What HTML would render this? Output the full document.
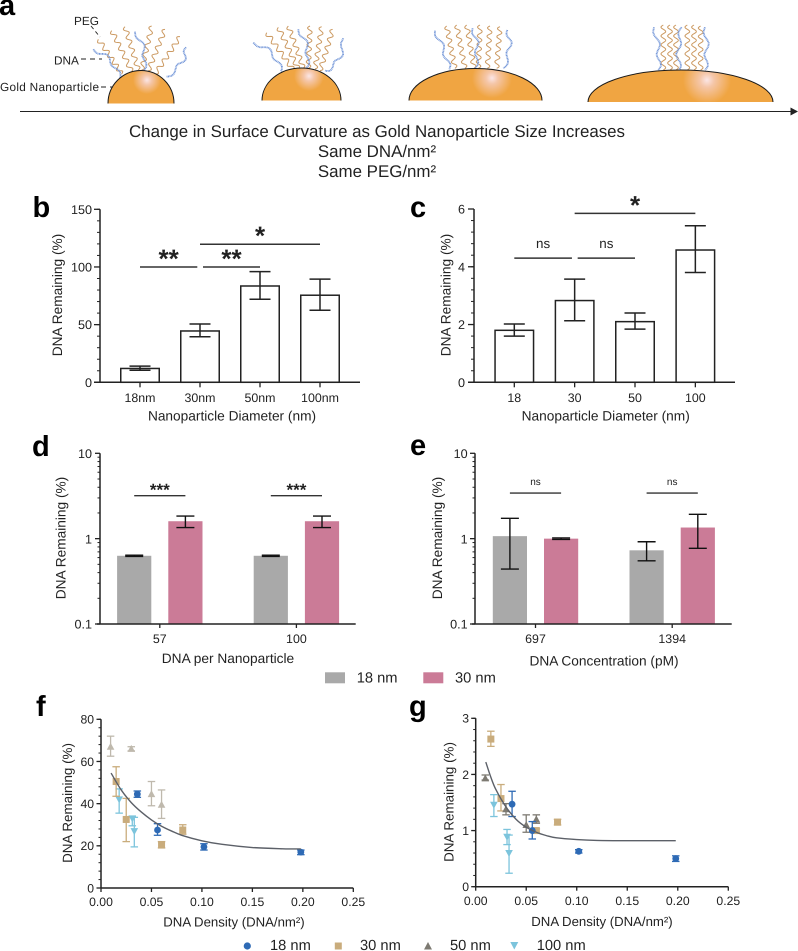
<!DOCTYPE html>
<html lang="en">
<head>
<meta charset="utf-8">
<title>Gold nanoparticle DNA remaining figure</title>
<style>
html,body{margin:0;padding:0;background:#fff;width:798px;height:951px;overflow:hidden}
svg{display:block;position:absolute;left:0;top:0}
text{font-family:"Liberation Sans",Arial,sans-serif;fill:#222;text-rendering:geometricPrecision}
</style>
</head>
<body>
<svg id="figure" xmlns="http://www.w3.org/2000/svg" width="798" height="951" viewBox="0 0 798 951">
  <defs>
    <radialGradient id="gold1" gradientUnits="userSpaceOnUse" cx="147" cy="80" r="14"><stop offset="0" stop-color="#fbe6e6"/><stop offset=".35" stop-color="#f5c6a8"/><stop offset="1" stop-color="#f0a542"/></radialGradient>
    <radialGradient id="gold2" gradientUnits="userSpaceOnUse" cx="309" cy="76" r="15"><stop offset="0" stop-color="#fbe6e6"/><stop offset=".35" stop-color="#f5c6a8"/><stop offset="1" stop-color="#f0a542"/></radialGradient>
    <radialGradient id="gold3" gradientUnits="userSpaceOnUse" cx="492" cy="78" r="20"><stop offset="0" stop-color="#fbe6e6"/><stop offset=".3" stop-color="#f5c6a8"/><stop offset="1" stop-color="#f0a542"/></radialGradient>
    <radialGradient id="gold4" gradientUnits="userSpaceOnUse" cx="707" cy="80" r="24"><stop offset="0" stop-color="#fbe6e6"/><stop offset=".3" stop-color="#f5c6a8"/><stop offset="1" stop-color="#f0a542"/></radialGradient>
  </defs>

  <g id="panel-a">
    <g id="strands"></g>
    <path d="M108 103.5 A33 33 0 0 1 174 103.5" fill="url(#gold1)" stroke="#1a1a1a" stroke-width="1"/>
    <path d="M262 100.5 A39.5 32.5 0 0 1 341 100.5" fill="url(#gold2)" stroke="#1a1a1a" stroke-width="1"/>
    <path d="M409 100.5 A66.5 32 0 0 1 542 100.5" fill="url(#gold3)" stroke="#1a1a1a" stroke-width="1"/>
    <path d="M588 102 A92.5 32 0 0 1 773 102" fill="url(#gold4)" stroke="#1a1a1a" stroke-width="1"/>
    <line x1="20" y1="111.5" x2="792" y2="111.5" stroke="#222" stroke-width="1.1"/>
    <polygon points="790.5,107.5 798,111.5 790.5,115.5" fill="#222"/>
    <text x="74" y="25" font-size="11.8">PEG</text>
    <text x="54" y="64.5" font-size="11.8">DNA</text>
    <text x="0" y="91" font-size="11.8" textLength="99" lengthAdjust="spacing">Gold Nanoparticle</text>
    <line x1="91" y1="26" x2="100" y2="37" stroke="#222" stroke-width=".9" stroke-dasharray="4 3"/>
    <line x1="81" y1="59" x2="102" y2="59" stroke="#222" stroke-width=".9" stroke-dasharray="5 4"/>
    <line x1="101" y1="87" x2="113" y2="87" stroke="#222" stroke-width=".9" stroke-dasharray="5 4"/>
    <text x="129" y="137" font-size="16.9" textLength="496" lengthAdjust="spacing">Change in Surface Curvature as Gold Nanoparticle Size Increases</text>
    <text x="377" y="157" font-size="16.9" text-anchor="middle">Same DNA/nm²</text>
    <text x="377" y="177" font-size="16.9" text-anchor="middle">Same PEG/nm²</text>
  </g>

  <g font-weight="700" font-size="29">
    <text x="-1" y="15" style="fill:#000">a</text>
    <text x="32.5" y="217" style="fill:#000">b</text>
    <text x="410" y="217" style="fill:#000">c</text>
    <text x="32" y="456" style="fill:#000">d</text>
    <text x="410" y="455" style="fill:#000">e</text>
    <text x="36" y="716" style="fill:#000">f</text>
    <text x="409" y="716" style="fill:#000">g</text>
  </g>

  <g id="panel-b"></g>
  <g id="panel-c"></g>
  <g id="panel-d"></g>
  <g id="panel-e"></g>
  <g id="panel-f"></g>
  <g id="panel-g"></g>

  <g>
    <rect x="325" y="672.3" width="20" height="11" fill="#a9a9a9"/>
    <text x="356.7" y="682.7" font-size="14.7">18 nm</text>
    <rect x="423.3" y="672.3" width="20" height="11" fill="#cb7b97"/>
    <text x="455" y="682.7" font-size="14.7">30 nm</text>
  </g>
  <g>
    <circle cx="247.3" cy="946" r="3.6" fill="#2e6ab5"/>
    <text x="270" y="950" font-size="14.7">18 nm</text>
    <rect x="334.8" y="942.5" width="7" height="7" fill="#c9ac7c"/>
    <text x="360" y="950" font-size="14.7">30 nm</text>
    <polygon points="428,942 432,949.5 424,949.5" fill="#7d7a72"/>
    <text x="450" y="950" font-size="14.7">50 nm</text>
    <polygon points="510.3,942 518.3,942 514.3,949.5" fill="#7cc4dc"/>
    <text x="536.7" y="950" font-size="14.7">100 nm</text>
  </g>
</svg>

<script>
/* ---------- panel b data ---------- */
const bCategories = ['18nm', '30nm', '50nm', '100nm'];
const bValues = [12, 44.5, 83.5, 75.5];
const bErrHigh = [14, 50.5, 96, 89.5];
const bErrLow = [10.5, 39.5, 72, 62.5];
const bYTicks = [0, 50, 100, 150];
const bSigFrom = [0, 1.05, 1];
const bSigTo = [0.955, 2, 3];
const bSigLevels = [100, 100, 119.7];
const bSigLabels = ['**', '**', '*'];

/* ---------- panel c data ---------- */
const cCategories = ['18', '30', '50', '100'];
const cValues = [1.8, 2.83, 2.1, 4.58];
const cErrHigh = [2.02, 3.57, 2.4, 5.42];
const cErrLow = [1.6, 2.13, 1.84, 3.8];
const cYTicks = [0, 2, 4, 6];
const cSigFrom = [0, 1.05, 1];
const cSigTo = [0.955, 2, 3];
const cSigLevels = [4.3, 4.3, 5.85];
const cSigLabels = ['ns', 'ns', '*'];

/* ---------- panel d data ---------- */
const dCategories = ['57', '100'];
const dValues18 = [0.63, 0.63];
const dHigh18 = [0.64, 0.64];
const dLow18 = [0.62, 0.62];
const dValues30 = [1.6, 1.6];
const dHigh30 = [1.84, 1.84];
const dLow30 = [1.35, 1.35];
const dSigLevels = [3.19, 3.19];
const dSigLabels = ['***', '***'];

/* ---------- panel e data ---------- */
const eCategories = ['697', '1394'];
const eValues18 = [1.07, 0.73];
const eHigh18 = [1.73, 0.92];
const eLow18 = [0.44, 0.55];
const eValues30 = [1.0, 1.35];
const eHigh30 = [1.02, 1.93];
const eLow30 = [0.98, 0.77];
const eSigLevels = [3.42, 3.42];
const eSigLabels = ['ns', 'ns'];

const logTicks = [0.1, 1, 10];
const logTickLabels = ['0.1', '1', '10'];

/* ---------- panels f and g shared density values ---------- */
const density18 = [0.036, 0.056, 0.102, 0.198];
const density30 = [0.015, 0.025, 0.060, 0.081];
const density50 = [0.0095, 0.030, 0.050, 0.060];
const density100 = [0.018, 0.031, 0.033];
const densityTicks = [0, 0.05, 0.10, 0.15, 0.20, 0.25];
const densityTickLabels = ['0.00', '0.05', '0.10', '0.15', '0.20', '0.25'];

/* ---------- panel f data ---------- */
const f18 = [44.5, 27.5, 19.5, 17];
const f18High = [46, 30.5, 21, 18];
const f18Low = [43, 25, 18, 15.8];
const f30 = [50.5, 32.5, 20.5, 27.5];
const f30High = [57.5, 42.5, 22, 30];
const f30Low = [43.5, 22, 19, 25.5];
const f50 = [67, 66, 44.5, 39.5];
const f50High = [72, 67, 50.5, 46.5];
const f50Low = [62.5, 65, 39, 33];
const f100 = [42, 33, 27];
const f100High = [47, 34, 33.5];
const f100Low = [35.5, 29.5, 19.5];
const fFitX = [0.01, 0.02, 0.03, 0.04, 0.05, 0.06, 0.07, 0.08, 0.10, 0.12, 0.15, 0.18, 0.198];
const fFitY = [54.5, 46.5, 40.5, 36, 32.3, 29.3, 27, 25, 22.4, 20.7, 19.2, 18.6, 18.5];
const fYTicks = [0, 20, 40, 60, 80];

/* ---------- panel g data ---------- */
const g18 = [1.47, 1.0, 0.63, 0.5];
const g18High = [1.7, 1.16, 0.66, 0.55];
const g18Low = [1.25, 0.85, 0.6, 0.45];
const g30 = [2.63, 1.57, 1.0, 1.15];
const g30High = [2.77, 1.82, 1.03, 1.2];
const g30Low = [2.5, 1.35, 0.97, 1.1];
const g50 = [1.93, 1.38, 1.1, 1.2];
const g50High = [1.99, 1.48, 1.28, 1.28];
const g50Low = [1.9, 1.28, 0.97, 1.13];
const g100 = [1.46, 0.89, 0.6];
const g100High = [1.64, 1.02, 0.92];
const g100Low = [1.25, 0.75, 0.24];
const gFitX = [0.01, 0.015, 0.02, 0.03, 0.04, 0.05, 0.06, 0.07, 0.08, 0.10, 0.12, 0.15, 0.198];
const gFitY = [2.22, 1.95, 1.73, 1.42, 1.2, 1.06, 0.97, 0.91, 0.87, 0.84, 0.825, 0.82, 0.82];
const gYTicks = [0, 1, 2, 3];

/* ---------- helpers ---------- */
const NS = 'http://www.w3.org/2000/svg';
function svgEl(parent, tag, props, content) {
  const el = document.createElementNS(NS, tag);
  for (const k in props) el.setAttribute(k, props[k]);
  if (content !== undefined) el.textContent = content;
  parent.appendChild(el);
  return el;
}
function linearScale(d0, d1, r0, r1) {
  return v => r0 + (v - d0) * (r1 - r0) / (d1 - d0);
}
function logScale(d0, d1, r0, r1) {
  return v => r0 + (Math.log10(v) - Math.log10(d0)) * (r1 - r0) / (Math.log10(d1) - Math.log10(d0));
}
const INK = '#222';

function axisLine(g, x1, y1, x2, y2, w) {
  const el = svgEl(g, 'line', {x1, y1, x2, y2, stroke: INK, 'stroke-width': w});
  
  
}
function yTick(g, xAxis, y, len) {
  const el = svgEl(g, 'line', {x1: xAxis - len, y1: y, x2: xAxis, y2: y, stroke: INK, 'stroke-width': len > 3 ? 1.3 : 1});
  
  
}
function xTick(g, x, yAxis, len) {
  const el = svgEl(g, 'line', {x1: x, y1: yAxis, x2: x, y2: yAxis + len, stroke: INK, 'stroke-width': 1.3});
  
  
}
function yLabel(g, xRight, y, s, size) {
  const el = svgEl(g, 'text', {x: xRight, y: y, 'text-anchor': 'end', 'font-size': size}, s);
  
  
}
function xLabel(g, x, y, s, size) {
  const el = svgEl(g, 'text', {x: x, y: y, 'text-anchor': 'middle', 'font-size': size}, s);
  
  
}
function yTitle(g, cx, cy, s, size) {
  const el = svgEl(g, 'text', {x: 0, y: 0, 'text-anchor': 'middle', 'font-size': size, transform: 'translate(' + cx + ' ' + cy + ') rotate(-90)'}, s);
  
  
}
function xTitle(g, cx, y, s, size) {
  const el = svgEl(g, 'text', {x: cx, y: y, 'text-anchor': 'middle', 'font-size': size}, s);
  
  
}
function errorBar(g, x, yHigh, yLow, cap, color, w) {
  const stem = svgEl(g, 'line', {x1: x, y1: yHigh, x2: x, y2: yLow, stroke: color, 'stroke-width': w});
  
  
  const top = svgEl(g, 'line', {x1: x - cap / 2, y1: yHigh, x2: x + cap / 2, y2: yHigh, stroke: color, 'stroke-width': w});
  
  
  const bot = svgEl(g, 'line', {x1: x - cap / 2, y1: yLow, x2: x + cap / 2, y2: yLow, stroke: color, 'stroke-width': w});
  
  
}
function sigBracket(g, x1, x2, y, w) {
  const el = svgEl(g, 'line', {x1: x1, y1: y, x2: x2, y2: y, stroke: '#333', 'stroke-width': w});
  
  
}
function sigText(g, x, y, s, size, bold) {
  const el = svgEl(g, 'text', {x: x, y: y, 'text-anchor': 'middle', 'font-size': size, 'font-weight': bold ? 700 : 400}, s);
  
  
}

/* ---------- outlined bar panels (b, c) ---------- */
function outlineBarPanel(g, o, cats, vals, hi, lo, yTicks, minorStep, yMax, sigFrom, sigTo, sigLevels, sigLabels) {
  const y = linearScale(0, yMax, o.bottom, o.top);
  const x = i => o.first + i * o.step;
  cats.forEach((c, i) => {
    const bar = svgEl(g, 'rect', {x: x(i) - o.barW / 2, y: y(vals[i]), width: o.barW, height: y(0) - y(vals[i]), fill: '#fff', stroke: INK, 'stroke-width': 1.5});
    
    
    errorBar(g, x(i), y(hi[i]), y(lo[i]), 21, INK, 1.5);
    xTick(g, x(i), o.bottom, 5);
    xLabel(g, x(i), o.xLabelY, c, 12.4);
  });
  axisLine(g, o.left, o.top, o.left, o.bottom, 1.5);
  axisLine(g, o.left - 6, o.bottom, o.right, o.bottom, 1.5);
  for (let k = 0; k * minorStep <= yMax + 1e-9; k++) yTick(g, o.left, y(k * minorStep), 3);
  yTicks.forEach(t => {
    yTick(g, o.left, y(t), 6);
    yLabel(g, o.labelRight, y(t) + 4.6, String(t), 12.6);
  });
  sigLabels.forEach((s, i) => {
    const a = x(sigFrom[i]), b = x(sigTo[i]), ly = y(sigLevels[i]);
    sigBracket(g, a, b, ly, 1.5);
    if (s === 'ns') sigText(g, (a + b) / 2, ly - 10, s, 13.4, false);
    else sigText(g, (a + b) / 2, ly + 0.5, s, 26, true);
  });
}
outlineBarPanel(document.getElementById('panel-b'),
  {left: 100, right: 360, top: 209.3, bottom: 382.3, first: 140, step: 60, barW: 38.5, xLabelY: 402, labelRight: 92},
  bCategories, bValues, bErrHigh, bErrLow, bYTicks, 10, 150, bSigFrom, bSigTo, bSigLevels, bSigLabels);
outlineBarPanel(document.getElementById('panel-c'),
  {left: 474, right: 735, top: 209, bottom: 382.3, first: 514.3, step: 60.35, barW: 38.5, xLabelY: 402, labelRight: 465},
  cCategories, cValues, cErrHigh, cErrLow, cYTicks, 0.4, 6, cSigFrom, cSigTo, cSigLevels, cSigLabels);
yTitle(document.getElementById('panel-b'), 62, 295, 'DNA Remaining (%)', 13.7);
xTitle(document.getElementById('panel-b'), 232, 420.7, 'Nanoparticle Diameter (nm)', 13.7);
yTitle(document.getElementById('panel-c'), 450.5, 295, 'DNA Remaining (%)', 13.7);
xTitle(document.getElementById('panel-c'), 605.7, 420.7, 'Nanoparticle Diameter (nm)', 13.7);

/* ---------- grouped log bar panels (d, e) ---------- */
function groupedLogPanel(g, o, cats, v18, h18, l18, v30, h30, l30, sigLevels, sigLabels) {
  const y = logScale(0.1, 10, o.bottom, o.top);
  const x18 = i => o.first + i * o.step;
  const x30 = i => x18(i) + o.gap;
  cats.forEach((c, i) => {
    const grey = svgEl(g, 'rect', {x: x18(i) - o.barW / 2, y: y(v18[i]), width: o.barW, height: y(0.1) - y(v18[i]), fill: '#a9a9a9'});
    
    
    const pink = svgEl(g, 'rect', {x: x30(i) - o.barW / 2, y: y(v30[i]), width: o.barW, height: y(0.1) - y(v30[i]), fill: '#cb7b97'});
    
    
    errorBar(g, x18(i), y(h18[i]), y(l18[i]), 18, '#111', 1.4);
    errorBar(g, x30(i), y(h30[i]), y(l30[i]), 18, '#111', 1.4);
    const mid = (x18(i) + x30(i)) / 2;
    xTick(g, mid, o.bottom, 4);
    xLabel(g, mid, o.xLabelY, c, 12.4);
    const ly = y(sigLevels[i]);
    sigBracket(g, x18(i), x30(i), ly, 1.4);
    if (sigLabels[i] === 'ns') sigText(g, mid, ly - 8, sigLabels[i], 10, false);
    else sigText(g, mid, ly, sigLabels[i], 17, true);
  });
  axisLine(g, o.left, o.top, o.left, o.bottom, 1.5);
  axisLine(g, o.left - 3, o.bottom, o.right, o.bottom, 1.5);
  for (let d = -1; d < 1; d++) {
    for (let m = 2; m <= 9; m++) yTick(g, o.left, y(m * Math.pow(10, d)), 2.5);
  }
  logTicks.forEach((t, i) => {
    yTick(g, o.left, y(t), 5);
    yLabel(g, o.labelRight, y(t) + 4.6, logTickLabels[i], 12.6);
  });
}
groupedLogPanel(document.getElementById('panel-d'),
  {left: 100, right: 355.7, top: 453.3, bottom: 624, first: 134.2, step: 136.6, gap: 51.2, barW: 34.2, xLabelY: 643, labelRight: 92},
  dCategories, dValues18, dHigh18, dLow18, dValues30, dHigh30, dLow30, dSigLevels, dSigLabels);
groupedLogPanel(document.getElementById('panel-e'),
  {left: 475, right: 731.7, top: 453.3, bottom: 624, first: 509.9, step: 136.7, gap: 51.2, barW: 34.2, xLabelY: 643, labelRight: 467.7},
  eCategories, eValues18, eHigh18, eLow18, eValues30, eHigh30, eLow30, eSigLevels, eSigLabels);
yTitle(document.getElementById('panel-d'), 65.5, 538, 'DNA Remaining (%)', 13.7);
xTitle(document.getElementById('panel-d'), 228, 663, 'DNA per Nanoparticle', 13.7);
yTitle(document.getElementById('panel-e'), 442, 538, 'DNA Remaining (%)', 13.7);
xTitle(document.getElementById('panel-e'), 604, 665.7, 'DNA Concentration (pM)', 13.7);

/* ---------- scatter panels (f, g) ---------- */
function marker(g, kind, x, y, color) {
  let el;
  if (kind === 'circle') el = svgEl(g, 'circle', {cx: x, cy: y, r: 3.4, fill: color});
  else if (kind === 'square') el = svgEl(g, 'rect', {x: x - 3.5, y: y - 3.5, width: 7, height: 7, fill: color});
  else if (kind === 'up') el = svgEl(g, 'polygon', {points: x + ',' + (y - 4) + ' ' + (x + 3.8) + ',' + (y + 3) + ' ' + (x - 3.8) + ',' + (y + 3), fill: color});
  else el = svgEl(g, 'polygon', {points: (x - 3.8) + ',' + (y - 3) + ' ' + (x + 3.8) + ',' + (y - 3) + ' ' + x + ',' + (y + 4), fill: color});
  
  
}
function scatterSeries(g, xs, ys, hi, lo, xScale, yScale, kind, color) {
  xs.forEach((d, i) => {
    errorBar(g, xScale(d), yScale(hi[i]), yScale(lo[i]), 7.5, color, 1.3);
    marker(g, kind, xScale(d), yScale(ys[i]), color);
  });
}
function scatterFrame(g, o, yScale, xScale, yTicks, minorStep, yMax) {
  axisLine(g, o.left, o.top, o.left, o.bottom, 1.5);
  axisLine(g, o.left, o.bottom, o.right, o.bottom, 1.5);
  for (let k = 0; k * minorStep <= yMax + 1e-9; k++) yTick(g, o.left, yScale(k * minorStep), 2.5);
  yTicks.forEach(t => {
    yTick(g, o.left, yScale(t), 4.5);
    yLabel(g, o.labelRight, yScale(t) + 4.4, String(t), 12.2);
  });
  densityTicks.forEach((t, i) => {
    xTick(g, xScale(t), o.bottom, 4);
    xLabel(g, xScale(t), o.xLabelY, densityTickLabels[i], 12.2);
  });
}
function fitLine(g, xs, ys, xScale, yScale) {
  /* smooth Catmull-Rom path through the points */
  const p = xs.map((d, i) => [xScale(d), yScale(ys[i])]);
  let dStr = 'M' + p[0][0] + ' ' + p[0][1];
  for (let i = 0; i < p.length - 1; i++) {
    const p0 = p[Math.max(0, i - 1)], p1 = p[i], p2 = p[i + 1], p3 = p[Math.min(p.length - 1, i + 2)];
    dStr += ' C' + (p1[0] + (p2[0] - p0[0]) / 6) + ' ' + (p1[1] + (p2[1] - p0[1]) / 6) + ' ' +
      (p2[0] - (p3[0] - p1[0]) / 6) + ' ' + (p2[1] - (p3[1] - p1[1]) / 6) + ' ' + p2[0] + ' ' + p2[1];
  }
  const el = svgEl(g, 'path', {d: dStr, fill: 'none', stroke: '#5c6068', 'stroke-width': 1.4});
  
  
}

const fG = document.getElementById('panel-f');
const fFrame = {left: 101, right: 353.3, top: 719.3, bottom: 888, labelRight: 94, xLabelY: 906};
const fx = linearScale(0, 0.25, fFrame.left, fFrame.right);
const fy = linearScale(0, 80, fFrame.bottom, fFrame.top);
scatterSeries(fG, density50, f50, f50High, f50Low, fx, fy, 'up', '#bfb9ad');
scatterSeries(fG, density100, f100, f100High, f100Low, fx, fy, 'down', '#7cc4dc');
scatterSeries(fG, density30, f30, f30High, f30Low, fx, fy, 'square', '#c9ac7c');
scatterSeries(fG, density18, f18, f18High, f18Low, fx, fy, 'circle', '#2e6ab5');
fitLine(fG, fFitX, fFitY, fx, fy);
scatterFrame(fG, fFrame, fy, fx, fYTicks, 4, 80);
yTitle(fG, 72, 803, 'DNA Remaining (%)', 13.4);
xTitle(fG, 234, 926.7, 'DNA Density (DNA/nm²)', 13.2);

const gG = document.getElementById('panel-g');
const gFrame = {left: 475.7, right: 728.3, top: 718.3, bottom: 886.7, labelRight: 469, xLabelY: 905};
const gx = linearScale(0, 0.25, gFrame.left, gFrame.right);
const gy = linearScale(0, 3, gFrame.bottom, gFrame.top);
scatterSeries(gG, density100, g100, g100High, g100Low, gx, gy, 'down', '#7cc4dc');
scatterSeries(gG, density30, g30, g30High, g30Low, gx, gy, 'square', '#c9ac7c');
scatterSeries(gG, density50, g50, g50High, g50Low, gx, gy, 'up', '#7d7a72');
scatterSeries(gG, density18, g18, g18High, g18Low, gx, gy, 'circle', '#2e6ab5');
fitLine(gG, gFitX, gFitY, gx, gy);
scatterFrame(gG, gFrame, gy, gx, gYTicks, 0.2, 3);
yTitle(gG, 453.5, 802, 'DNA Remaining (%)', 13.4);
xTitle(gG, 602, 926, 'DNA Density (DNA/nm²)', 13.2);

/* ---------- schematic surface strands (illustration, not data) ---------- */
const strandGroup = document.getElementById('strands');
function strand(sx, sy, cx, cy, ex, ey, wavelength, amp, color, w, dash, offsetX) {
  const P = [sx, sy, cx, cy, ex, ey].map((v, i) => (i % 2 === 0 ? v + offsetX : v) / 3);
  const approx = Math.hypot(P[4] - P[0], P[5] - P[1]);
  const cycles = Math.max(2, Math.round(approx / wavelength));
  const steps = cycles * 10;
  let d = '';
  for (let i = 0; i <= steps; i++) {
    const t = i / steps, u = 1 - t;
    const bx = u * u * P[0] + 2 * u * t * P[2] + t * t * P[4];
    const by = u * u * P[1] + 2 * u * t * P[3] + t * t * P[5];
    const dx = 2 * u * (P[2] - P[0]) + 2 * t * (P[4] - P[2]);
    const dy = 2 * u * (P[3] - P[1]) + 2 * t * (P[5] - P[3]);
    const len = Math.hypot(dx, dy) || 1;
    const off = amp * Math.sin(2 * Math.PI * cycles * t);
    d += (i ? 'L' : 'M') + (bx - dy / len * off).toFixed(2) + ' ' + (by + dx / len * off).toFixed(2);
  }
  const el = svgEl(strandGroup, 'path', {d: d, fill: 'none', stroke: color, 'stroke-width': w, 'stroke-linejoin': 'round'});
  if (dash) el.setAttribute('stroke-dasharray', dash);
  return el;
}
const PEG_COLOR = '#cc9a62', DNA_COLOR = '#7396d8';
const pegStrands = [
  [295,118,335,175,365,222,0],[335,92,365,150,395,215,0],[375,80,395,145,415,210,0],
  [455,78,440,145,425,210,0],[495,88,470,150,445,212,0],[540,110,505,165,465,222,0],
  [800,98,840,155,880,210,0],[835,82,865,145,895,208,0],[865,78,888,140,910,205,0],
  [930,78,928,140,925,205,0],[965,80,955,145,945,207,0],[998,88,980,150,960,212,0],
  [140,78,152,140,165,205,1200],[170,75,182,140,195,205,1200],[200,75,212,140,222,205,1200],
  [240,75,238,140,235,205,1200],[270,78,266,140,262,205,1200],[300,80,295,140,290,205,1200],
  [790,75,790,140,790,210,1200],[810,75,810,140,810,210,1200],[828,75,828,140,828,210,1200],
  [862,75,862,140,862,210,1200],[882,75,882,140,882,210,1200],[902,78,902,140,902,210,1200]
];
const dnaStrands = [
  [280,148,340,170,360,235,0],[405,95,445,150,430,212,0],[558,142,560,190,500,230,0],
  [760,128,830,150,843,215,0],[895,88,935,140,918,205,0],[1030,115,1030,190,975,212,0],
  [105,92,135,150,148,208,1200],[218,85,240,140,225,205,1200],[322,90,340,140,310,205,1200],
  [762,82,782,150,775,210,1200],[845,82,830,150,838,210,1200],[915,82,925,150,915,210,1200]
];
pegStrands.forEach(s => {
  const el = strand(s[0], s[1], s[2], s[3], s[4], s[5], 8.5, 2.4, PEG_COLOR, 1, null, s[6]);
  
  
});
dnaStrands.forEach(s => {
  const el = strand(s[0], s[1], s[2], s[3], s[4], s[5], 19, 2.2, DNA_COLOR, 1.8, '1 .5', s[6]);
  
  
});
</script>
</body>
</html>
